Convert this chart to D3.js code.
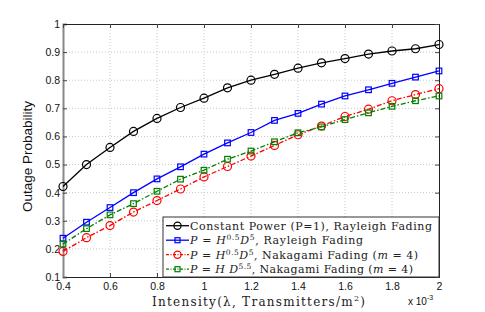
<!DOCTYPE html>
<html>
<head>
<meta charset="utf-8">
<style>
  body { margin: 0; background: #fff; }
  svg { display: block; }
</style>
</head>
<body>
<div id="chart"></div>
<script src="https://d3js.org/d3.v7.min.js"></script>
<script>
// values (intensity in units of 1e-3)
var intensity = [0.4, 0.5, 0.6, 0.7, 0.8, 0.9, 1.0, 1.1, 1.2, 1.3, 1.4, 1.5, 1.6, 1.7, 1.8, 1.9, 2.0];
var constRayleigh = [0.422, 0.500, 0.561, 0.618, 0.664, 0.703, 0.736, 0.773, 0.800, 0.821, 0.843, 0.862, 0.877, 0.893, 0.904, 0.912, 0.927];
var powRayleigh   = [0.238, 0.295, 0.347, 0.400, 0.449, 0.492, 0.537, 0.577, 0.614, 0.657, 0.682, 0.715, 0.744, 0.766, 0.789, 0.811, 0.833];
var powNakagami   = [0.191, 0.240, 0.283, 0.331, 0.372, 0.413, 0.456, 0.493, 0.530, 0.568, 0.606, 0.637, 0.671, 0.697, 0.727, 0.749, 0.770];
var hdNakagami    = [0.217, 0.272, 0.321, 0.361, 0.405, 0.448, 0.480, 0.519, 0.548, 0.581, 0.613, 0.634, 0.660, 0.684, 0.707, 0.727, 0.744];
var xTicks = [0.4, 0.6, 0.8, 1, 1.2, 1.4, 1.6, 1.8, 2];
var yTicks = [0.1, 0.2, 0.3, 0.4, 0.5, 0.6, 0.7, 0.8, 0.9, 1];

var series = [
  {values: constRayleigh, color: "#000000", marker: "circle", dash: null},
  {values: powRayleigh,   color: "#0000ff", marker: "square", dash: null},
  {values: powNakagami,   color: "#ff0000", marker: "circle", dash: "5,2,1.5,2"},
  {values: hdNakagami,    color: "#008000", marker: "square", dash: "5,2,1.5,2"}
];

var W = 485, H = 312;
var margin = {top: 24, right: 46, bottom: 35, left: 63};
var width = W - margin.left - margin.right,
    height = H - margin.top - margin.bottom;

var svg = d3.select("#chart").append("svg")
    .attr("width", W)
    .attr("height", H);
var g = svg.append("g").attr("transform", "translate(" + margin.left + "," + margin.top + ")");

var x = d3.scaleLinear().domain([0.4, 2]).range([0, width]);
var y = d3.scaleLinear().domain([0.1, 1]).range([height, 0]);

// grid
g.append("g").selectAll("line").data(xTicks.slice(1, -1)).enter().append("line")
    .attr("x1", function(d) { return x(d); }).attr("x2", function(d) { return x(d); })
    .attr("y1", 0).attr("y2", height)
    .attr("stroke", "#c8c8c8").attr("stroke-dasharray", "1,2");
g.append("g").selectAll("line").data(yTicks.slice(1, -1)).enter().append("line")
    .attr("y1", function(d) { return y(d); }).attr("y2", function(d) { return y(d); })
    .attr("x1", 0).attr("x2", width)
    .attr("stroke", "#c8c8c8").attr("stroke-dasharray", "1,2");

// axes (ticks pointing in, like matlab)
var xAxis = g.append("g")
    .attr("transform", "translate(0," + height + ")")
    .call(d3.axisBottom(x).tickValues(xTicks).tickSize(-4).tickPadding(6).tickFormat(d3.format("")));
var yAxis = g.append("g")
    .call(d3.axisLeft(y).tickValues(yTicks).tickSize(-4).tickPadding(3).tickFormat(d3.format("")));
g.append("g")
    .call(d3.axisTop(x).tickValues(xTicks).tickSize(-4).tickFormat(""));
g.append("g")
    .attr("transform", "translate(" + width + ",0)")
    .call(d3.axisRight(y).tickValues(yTicks).tickSize(-4).tickFormat(""));
g.selectAll(".domain").attr("stroke", "#222");
g.selectAll(".tick line").attr("stroke", "#444");
[xAxis, yAxis].forEach(function(a) {
  a.selectAll("text")
    .style("font-family", "Liberation Sans, Arial, sans-serif")
    .style("font-size", "10.5px")
    .attr("fill", "#111");
});
yAxis.select(".domain").attr("stroke", "#888").attr("stroke-width", 2);

// lines + markers
var line = d3.line()
    .x(function(d, i) { return x(intensity[i]); })
    .y(function(d) { return y(d); });

series.forEach(function(s) {
  g.append("path")
    .datum(s.values)
    .attr("fill", "none")
    .attr("stroke", s.color)
    .attr("stroke-width", 1.3)
    .attr("stroke-dasharray", s.dash)
    .attr("d", line);
  var m = g.append("g");
  if (s.marker == "circle") {
    m.selectAll("circle").data(s.values).enter().append("circle")
      .attr("cx", function(d, i) { return x(intensity[i]); })
      .attr("cy", function(d) { return y(d); })
      .attr("r", 4)
      .attr("fill", "none").attr("stroke", s.color).attr("stroke-width", 1.2);
  } else {
    m.selectAll("rect").data(s.values).enter().append("rect")
      .attr("x", function(d, i) { return x(intensity[i]) - 2.8; })
      .attr("y", function(d) { return y(d) - 2.8; })
      .attr("width", 5.6).attr("height", 5.6)
      .attr("fill", "none").attr("stroke", s.color).attr("stroke-width", 1.2);
  }
});

// legend
var legend = g.append("g").attr("transform", "translate(" + (width - 276) + "," + (height - 60) + ")");
legend.append("rect")
    .attr("width", 276).attr("height", 60)
    .attr("fill", "#fff").attr("stroke", "#333").attr("stroke-width", 1);

var labels = [
  {parts: [["Constant Power (P=1), Rayleigh Fading", ""]], len: 242},
  {parts: [["P", "i"], [" = ", ""], ["H", "i"], ["0.5", "s"], ["D", "i"], ["5", "s"], [", Rayleigh Fading", ""]], len: 173},
  {parts: [["P", "i"], [" = ", ""], ["H", "i"], ["0.5", "s"], ["D", "i"], ["5", "s"], [", Nakagami Fading (", ""], ["m", "i"], [" = 4)", ""]], len: 228},
  {parts: [["P", "i"], [" = ", ""], ["H D", "i"], ["5.5", "s"], [", Nakagami Fading (", ""], ["m", "i"], [" = 4)", ""]], len: 223}
];

labels.forEach(function(lab, i) {
  var s = series[i];
  var row = legend.append("g").attr("transform", "translate(0," + (8.7 + i * 14.5) + ")");
  row.append("line")
    .attr("x1", 3).attr("x2", 26).attr("y1", 0).attr("y2", 0)
    .attr("stroke", s.color).attr("stroke-width", 1.3)
    .attr("stroke-dasharray", s.dash ? "3,1.5,1,1.5" : null);
  if (s.marker == "circle") {
    row.append("circle").attr("cx", 14.5).attr("cy", 0).attr("r", 3.6)
      .attr("fill", "none").attr("stroke", s.color).attr("stroke-width", 1.2);
  } else {
    row.append("rect").attr("x", 12).attr("y", -2.5).attr("width", 5).attr("height", 5)
      .attr("fill", "none").attr("stroke", s.color).attr("stroke-width", 1.2);
  }
  var t = row.append("text")
    .attr("x", 27).attr("y", 3.8)
    .attr("textLength", lab.len).attr("lengthAdjust", "spacing")
    .style("font-family", "DejaVu Serif, serif")
    .style("font-size", "11px")
    .attr("fill", "#222");
  lab.parts.forEach(function(p) {
    var ts = t.append("tspan").text(p[0]);
    if (p[1] == "i") ts.style("font-style", "italic");
    if (p[1] == "s") ts.style("font-size", "7.5px").attr("dy", -4);
    else if (ts.node().previousSibling && ts.node().previousSibling.style.fontSize == "7.5px") ts.attr("dy", 4);
  });
});

// axis labels
svg.append("text")
    .attr("transform", "translate(32," + (margin.top + height / 2 + 6) + ") rotate(-90)")
    .attr("text-anchor", "middle")
    .style("font-family", "Liberation Sans, Arial, sans-serif")
    .style("font-size", "13.5px")
    .attr("fill", "#111")
    .text("Outage Probability");

var xl = svg.append("text")
    .attr("x", 152).attr("y", 306)
    .attr("textLength", 213).attr("lengthAdjust", "spacing")
    .style("font-family", "DejaVu Serif, serif")
    .style("font-size", "12px")
    .attr("fill", "#222");
xl.append("tspan").text("Intensity(λ, Transmitters/m");
xl.append("tspan").text("2").style("font-size", "8px").attr("dy", -5);
xl.append("tspan").text(")").attr("dy", 5);

var ex = svg.append("text")
    .attr("x", 408).attr("y", 305)
    .style("font-family", "Liberation Sans, Arial, sans-serif")
    .style("font-size", "10px")
    .attr("fill", "#111");
ex.append("tspan").text("x 10");
ex.append("tspan").text("-3").style("font-size", "7px").attr("dy", -5);
</script>
</body>
</html>
